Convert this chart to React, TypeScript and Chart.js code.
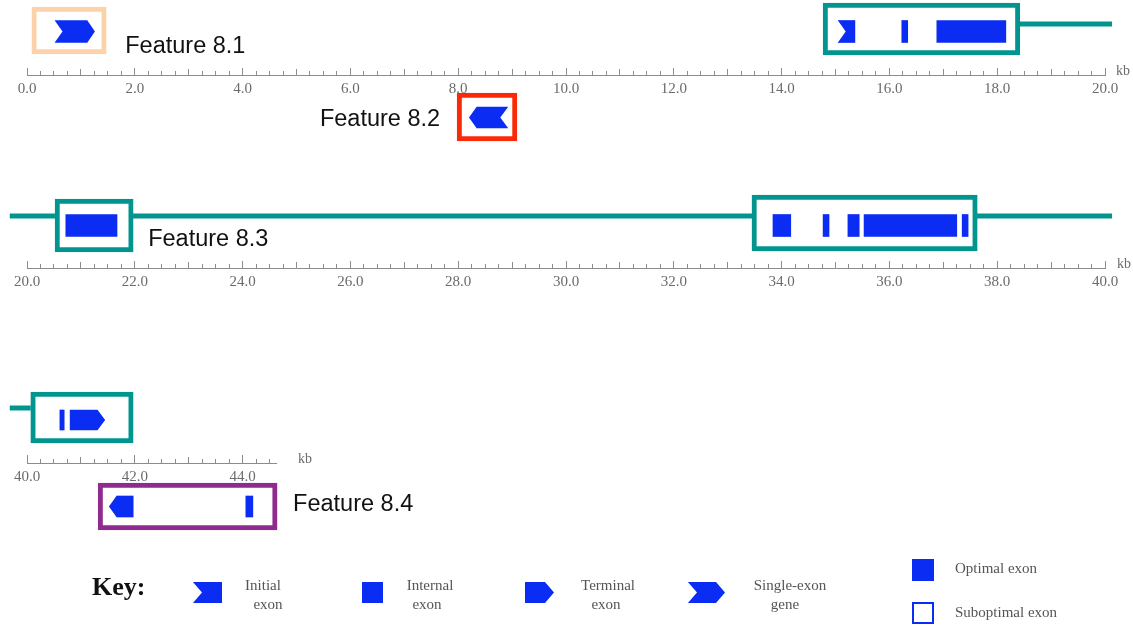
import React, { useEffect, useRef } from 'react';
import { Chart, registerables } from 'chart.js';

Chart.register(...registerables);

// ---------------- data ----------------
const rowStartKb = [0, 20, 40];
const rowEndKb = [20, 40, 44.64];
const rowSpanKb = 20;
const majorStepKb = 2;
const midStepKb = 1;
const minorStepKb = 0.25;
const axisUnit = 'kb';

const featureNames = ['Feature 8.1', 'Feature 8.2', '', 'Feature 8.3', '', '', 'Feature 8.4'];
const featureRow = [0, 0, 0, 1, 1, 2, 2];
const featureTrack = ['a', 'b', 'a', 'a', 'a', 'a', 'b'];
const featureStartKb = [0.09, 7.98, 14.77, 20.52, 33.45, 40.07, 41.32];
const featureEndKb = [1.47, 9.09, 18.42, 21.97, 37.63, 41.97, 44.64];

const exonRow = [0, 0, 0, 0, 0, 1, 1, 1, 1, 1, 1, 2, 2, 2, 2];
const exonTrack = ['a', 'b', 'a', 'a', 'a', 'a', 'a', 'a', 'a', 'a', 'a', 'a', 'a', 'b', 'b'];
const exonStartKb = [0.52, 8.2, 15.05, 16.23, 16.88, 20.72, 33.84, 34.77, 35.23, 35.53, 37.35, 40.61, 40.8, 41.52, 44.06];
const exonEndKb = [1.26, 8.92, 15.36, 16.34, 18.16, 21.67, 34.17, 34.88, 35.44, 37.25, 37.46, 40.69, 41.45, 41.97, 44.19];
const exonKind = ['single+', 'single-', 'initial+', 'internal', 'internal', 'internal', 'internal', 'internal', 'internal', 'internal', 'internal', 'internal', 'terminal+', 'terminal-', 'internal'];

const linkRow = [0, 1, 2];
const linkFromKb = [18.42, 19.68, 39.68];
const linkToKb = [20.13, 40.13, 40.07];

const keyTitle = 'Key:';
const keyKinds = ['initial+', 'internal', 'terminal+', 'single+'];
const keyLabels = [['Initial', 'exon'], ['Internal', 'exon'], ['Terminal', 'exon'], ['Single-exon', 'gene']];
const qualityLabels = ['Optimal exon', 'Suboptimal exon'];

// ---------------- layout / style ----------------
const W = 1133;
const H = 625;
const AXIS_Y = [75, 268, 463];
const TRACK_Y: Record<string, number> = { '0a': 31.5, '0b': 117.5, '1a': 225.5, '2a': 420, '2b': 506.5 };
const TRACK_EXON_H: Record<string, number> = { '0a': 22, '0b': 21, '1a': 22, '2a': 20, '2b': 21 };
const LINK_Y = [24, 216, 408];
const BOX_SHIFT = [-1, -0.5, -2.5, 0, -2.5, -2.5, 0];
const BOX_H = [47, 48, 52, 53, 56, 51, 47];
const BOX_LW = 5;
const LABEL_SIDE = ['right', 'left', '', 'right', '', '', 'right'];
const LABEL_GAP = [19, 17, 0, 15, 0, 0, 16];
const LABEL_DY = [16.5, 3, 0, 14.5, 0, 0, -1.5];
const KB_GAP = [11, 12, 21];

const BLUE = '#0b2cf2';
const TEAL = '#00968f';
const FEATURE_COLORS = ['#fdd2a8', '#fa2a08', TEAL, TEAL, TEAL, TEAL, '#8f2a8f'];
const AXIS_COLOR = '#8c8c8c';
const AXIS_TEXT = '#6b6b6b';
const KEY_TEXT = '#555555';
const SERIF = '"Liberation Serif", "Times New Roman", serif';
const SANS = '"Liberation Sans", Arial, sans-serif';

function carve(ctx: CanvasRenderingContext2D, l: number, r: number, t: number, b: number, kind: string, depth: number) {
  const cy = (t + b) / 2;
  const d = Math.min(depth, (r - l) * 0.45);
  const e = 1;
  const notchL = kind === 'single+' || kind === 'initial+';
  const notchR = kind === 'single-' || kind === 'initial-';
  const pointR = kind === 'single+' || kind === 'terminal+';
  const pointL = kind === 'single-' || kind === 'terminal-';
  const poly = (pts: number[][]) => {
    ctx.beginPath();
    ctx.moveTo(pts[0][0], pts[0][1]);
    for (let i = 1; i < pts.length; i++) ctx.lineTo(pts[i][0], pts[i][1]);
    ctx.closePath();
    ctx.fill();
  };
  ctx.save();
  ctx.fillStyle = '#ffffff';
  if (notchL) poly([[l - e, t - e], [l + d, cy], [l - e, b + e]]);
  if (notchR) poly([[r + e, t - e], [r - d, cy], [r + e, b + e]]);
  if (pointR) poly([[r - d, t], [r - d, t - e], [r + e, t - e], [r + e, b + e], [r - d, b + e], [r - d, b], [r, cy]]);
  if (pointL) poly([[l + d, t], [l + d, t - e], [l - e, t - e], [l - e, b + e], [l + d, b + e], [l + d, b], [l, cy]]);
  ctx.restore();
}

const exonShapePlugin = {
  id: 'exonShapes',
  afterDatasetsDraw(chart: any) {
    const ctx = chart.ctx;
    chart.data.datasets.forEach((ds: any, di: number) => {
      if (!ds.exonKinds) return;
      const meta = chart.getDatasetMeta(di);
      meta.data.forEach((el: any, i: number) => {
        const p = el.getProps(['x', 'y', 'base', 'height'], true);
        const l = Math.min(p.x, p.base);
        const r = Math.max(p.x, p.base);
        carve(ctx, l, r, p.y - p.height / 2, p.y + p.height / 2, ds.exonKinds[i], 7.5);
      });
    });
  },
};

const textPlugin = {
  id: 'diagramText',
  afterDraw(chart: any) {
    const ctx: CanvasRenderingContext2D = chart.ctx;
    const ys = chart.scales.y;
    ctx.save();
    // kb unit labels
    ctx.font = `14px ${SERIF}`;
    ctx.fillStyle = AXIS_TEXT;
    ctx.textAlign = 'left';
    ctx.textBaseline = 'middle';
    [0, 1, 2].forEach((r) => {
      const sc = chart.scales[`x${r}`];
      ctx.fillText(axisUnit, sc.getPixelForValue(rowEndKb[r]) + KB_GAP[r], ys.getPixelForValue(AXIS_Y[r]) - 4);
    });
    // feature labels
    ctx.font = `23.5px ${SANS}`;
    ctx.fillStyle = '#111111';
    featureNames.forEach((name, i) => {
      if (!name) return;
      const sc = chart.scales[`x${featureRow[i]}`];
      const l = sc.getPixelForValue(featureStartKb[i]);
      const r = sc.getPixelForValue(featureEndKb[i]);
      const cy = ys.getPixelForValue(TRACK_Y[`${featureRow[i]}${featureTrack[i]}`] + BOX_SHIFT[i]) + LABEL_DY[i];
      if (LABEL_SIDE[i] === 'right') {
        ctx.textAlign = 'left';
        ctx.fillText(name, r + LABEL_GAP[i], cy);
      } else {
        ctx.textAlign = 'right';
        ctx.fillText(name, l - LABEL_GAP[i], cy);
      }
    });
    // key
    ctx.textAlign = 'left';
    ctx.fillStyle = '#111111';
    ctx.font = `bold 26px ${SERIF}`;
    ctx.fillText(keyTitle, 92, 588);
    const iconX = [193, 362, 525, 688];
    const iconW = [29, 21, 29, 37];
    const textX = [[263, 268], [430, 427], [608, 606], [790, 785]];
    keyKinds.forEach((kind, i) => {
      ctx.fillStyle = BLUE;
      ctx.fillRect(iconX[i], 582, iconW[i], 21);
      carve(ctx, iconX[i], iconX[i] + iconW[i], 582, 603, kind, 9);
      ctx.fillStyle = KEY_TEXT;
      ctx.font = `15px ${SERIF}`;
      ctx.textAlign = 'center';
      ctx.fillText(keyLabels[i][0], textX[i][0], 586);
      ctx.fillText(keyLabels[i][1], textX[i][1], 605);
    });
    ctx.fillStyle = BLUE;
    ctx.fillRect(912, 559, 22, 22);
    ctx.strokeStyle = BLUE;
    ctx.lineWidth = 2;
    ctx.strokeRect(913, 603, 20, 20);
    ctx.fillStyle = KEY_TEXT;
    ctx.textAlign = 'left';
    ctx.fillText(qualityLabels[0], 955, 569);
    ctx.fillText(qualityLabels[1], 955, 613);
    ctx.restore();
  },
};

// tick values of one ruler row, from its start up to its end
function rulerTicks(r: number, step: number) {
  const out: { value: number }[] = [];
  const n = Math.floor((rowEndKb[r] - rowStartKb[r]) / step + 1e-9);
  for (let k = 0; k <= n; k++) out.push({ value: +(rowStartKb[r] + k * step).toFixed(4) });
  return out;
}

function buildScales() {
  const scales: any = {
    y: { type: 'linear', min: 0, max: H, reverse: true, display: false, offset: false },
  };
  [0, 1, 2].forEach((r) => {
    const base = (step: number) => ({
      type: 'linear',
      axis: 'x',
      position: { y: AXIS_Y[r] },
      min: rowStartKb[r],
      max: rowStartKb[r] + rowSpanKb,
      stacked: false,
      offset: false,
      afterBuildTicks: (s: any) => {
        s.ticks = rulerTicks(r, step);
      },
    });
    scales[`x${r}`] = {
      ...base(majorStepKb),
      border: { display: r < 2, color: AXIS_COLOR, width: 1 },
      grid: { drawOnChartArea: false, drawTicks: true, tickLength: -8, tickColor: AXIS_COLOR, tickWidth: 1, offset: false },
      ticks: {
        stepSize: majorStepKb,
        autoSkip: false,
        maxRotation: 0,
        minRotation: 0,
        padding: 13,
        color: AXIS_TEXT,
        font: { family: SERIF, size: 15 },
        callback: (v: any) => Number(v).toFixed(1),
      },
    };
    scales[`x${r}mid`] = {
      ...base(midStepKb),
      border: { display: false },
      grid: { drawOnChartArea: false, drawTicks: true, tickLength: -6, tickColor: AXIS_COLOR, tickWidth: 1, offset: false },
      ticks: { stepSize: midStepKb, autoSkip: false, display: false },
    };
    scales[`x${r}min`] = {
      ...base(minorStepKb),
      border: { display: false },
      grid: { drawOnChartArea: false, drawTicks: true, tickLength: -4, tickColor: AXIS_COLOR, tickWidth: 1, offset: false },
      ticks: { stepSize: minorStepKb, autoSkip: false, display: false },
    };
  });
  return scales;
}

function buildDatasets() {
  const datasets: any[] = [];
  // ruler baseline of the short last row
  datasets.push({
    type: 'line',
    xAxisID: 'x2',
    yAxisID: 'y',
    data: [
      { x: rowStartKb[2], y: AXIS_Y[2] + 0.5 },
      { x: rowEndKb[2], y: AXIS_Y[2] + 0.5 },
    ],
    borderColor: AXIS_COLOR,
    borderWidth: 1,
    pointRadius: 0,
    clip: false,
    order: 5,
  });
  // gene connectors
  linkRow.forEach((r, i) => {
    datasets.push({
      type: 'line',
      xAxisID: `x${r}`,
      yAxisID: 'y',
      data: [
        { x: linkFromKb[i], y: LINK_Y[r] },
        { x: linkToKb[i], y: LINK_Y[r] },
      ],
      borderColor: TEAL,
      borderWidth: 5,
      borderCapStyle: 'butt',
      pointRadius: 0,
      clip: false,
      order: 4,
    });
  });
  // feature boxes
  featureNames.forEach((_, i) => {
    const r = featureRow[i];
    datasets.push({
      type: 'bar',
      indexAxis: 'y',
      xAxisID: `x${r}`,
      yAxisID: 'y',
      grouped: false,
      data: [{ x: [featureStartKb[i], featureEndKb[i]], y: TRACK_Y[`${r}${featureTrack[i]}`] + BOX_SHIFT[i] }],
      barThickness: BOX_H[i],
      backgroundColor: '#ffffff',
      borderColor: FEATURE_COLORS[i],
      borderWidth: BOX_LW,
      borderSkipped: false,
      clip: false,
      order: 3,
    });
  });
  // exons, one dataset per track
  Object.keys(TRACK_Y).forEach((key) => {
    const r = Number(key[0]);
    const t = key[1];
    const idx = exonRow.map((rr, i) => (rr === r && exonTrack[i] === t ? i : -1)).filter((i) => i >= 0);
    if (!idx.length) return;
    datasets.push({
      type: 'bar',
      indexAxis: 'y',
      xAxisID: `x${r}`,
      yAxisID: 'y',
      grouped: false,
      data: idx.map((i) => ({ x: [exonStartKb[i], exonEndKb[i]], y: TRACK_Y[key] })),
      exonKinds: idx.map((i) => exonKind[i]),
      barThickness: TRACK_EXON_H[key],
      backgroundColor: BLUE,
      borderWidth: 0,
      clip: false,
      order: 1,
    });
  });
  return datasets;
}

export default function App() {
  const ref = useRef<HTMLCanvasElement | null>(null);
  useEffect(() => {
    if (!ref.current) return;
    const chart = new Chart(ref.current, {
      type: 'bar',
      data: { datasets: buildDatasets() } as any,
      options: {
        responsive: false,
        animation: false,
        events: [],
        layout: { padding: { left: 27, right: 28, top: 0, bottom: 0 } },
        plugins: { legend: { display: false }, tooltip: { enabled: false }, title: { display: false } },
        scales: buildScales(),
      } as any,
      plugins: [exonShapePlugin, textPlugin] as any,
    });
    return () => chart.destroy();
  }, []);
  return (
    <div style={{ position: 'absolute', left: 0, top: 0, width: W, height: H, background: '#ffffff' }}>
      <canvas ref={ref} width={W} height={H} style={{ display: 'block', width: W, height: H }} />
    </div>
  );
}
